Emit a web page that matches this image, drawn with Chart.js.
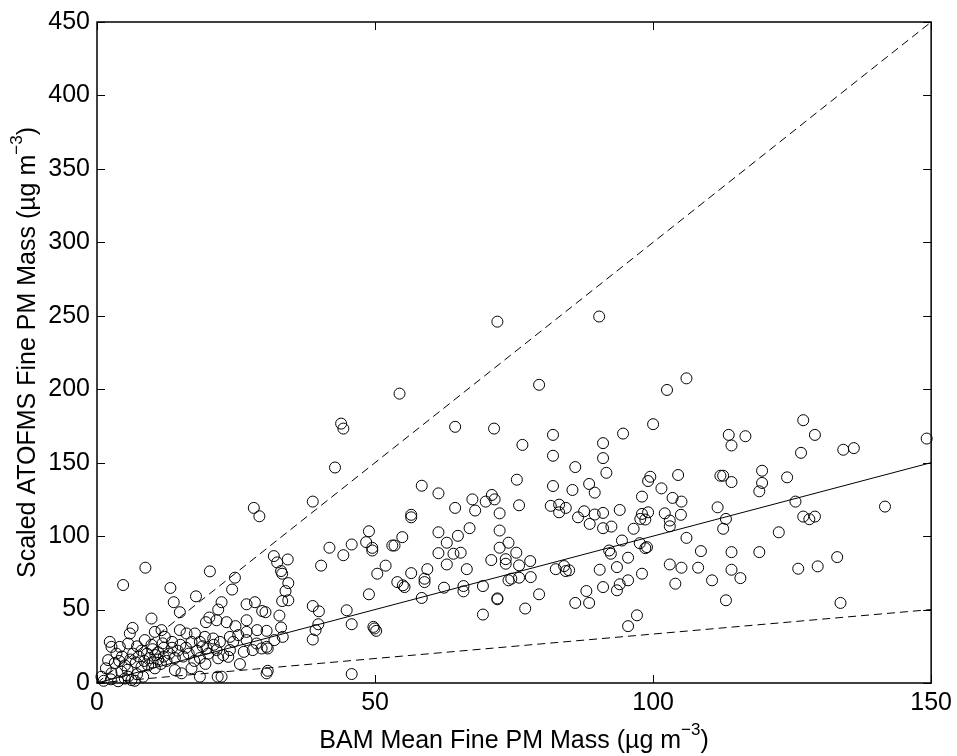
<!DOCTYPE html>
<html lang="en">
<head>
  <meta charset="UTF-8" />
  <title>BAM vs ATOFMS Fine PM Mass</title>
  <script src="https://cdn.jsdelivr.net/npm/chart.js"></script>
  <style>
    html, body { margin: 0; padding: 0; background: #fff; }
    #wrap { width: 957px; height: 756px; }
  </style>
</head>
<body>
  <div id="wrap"><canvas id="pmChart"></canvas></div>

  <script>
    // BAM mean fine PM mass (x) and scaled ATOFMS fine PM mass (y)
    const bamMass = [
      72,90.3,54.4,79.5,43.9,44.3,64.4,71.4,42.8,38.8,82,76.5,82,86,75.5,58.4,82,88.5,89.5,85.5,
      61.4,67.5,71,71.5,69.9,68,64.4,72.4,75.9,56.5,56.5,81.6,83.1,83.1,84.3,86.5,87.6,89.5,88.6,48.9,
      48.4,49.5,49.5,54.9,53.1,53.5,41.8,45.8,44.3,40.3,50.4,51.9,61.4,64.9,67,72.4,62.9,74,61.4,64.1,
      65.4,72.4,75.4,62.9,70.9,73.5,73.5,75.9,77.9,66.5,59.4,56.5,58.9,58.9,54,55,55.3,74,74.5,75.9,
      78,82.5,84,84.3,84.9,48.9,58.4,62.4,65.9,65.9,69.4,72,72,79.5,88,86,88.5,69.4,77,38.8,
      39.9,44.9,39.8,39.3,38.8,45.8,49.9,50.2,49.7,45.8,
      106,102.5,100,94.6,91,91,91.6,113.6,116.6,114.1,127,129.1,126.6,134.2,136.1,149.2,99.5,99.1,104.5,101.5,
      98,103.5,105.1,112.1,112.6,114.1,119.6,119.6,119.1,124.1,125.6,141.7,127,128.1,129.1,111.6,113.1,112.6,122.6,94,
      91,91,92.5,96.5,97.7,98,99.1,98.6,102.1,103,103,105,94.4,97.6,98.9,98.6,106,92.1,92.4,95.5,
      90.4,93.5,98,103,105.1,108.6,108.1,114.1,114.1,115.7,119.1,110.6,104,95.5,94,93.5,91,113.1,126.1,129.6,
      133.1,133.7,97.1,95.5,
      28.2,29.2,8.7,4.7,20.3,24.8,24.3,31.8,32.4,34.3,33.1,33.3,34.4,33.9,33.3,34.4,13.2,13.8,14.9,17.8,
      22.4,21.8,20.2,19.6,26.9,28.4,29.7,30.3,32.8,33.1,26.9,9.8,6.4,5.9,23.3,24.9,25.4,2.3,2.6,4.1,
      30.5,28.8,30.7,26.4,25.7,30.7,30.5,18.5,21.7,22.4,8.3,1.6,
      5.6,10.4,11.6,12.2,8.6,14.9,16.1,17.6,18.5,2,3.2,2.6,4.4,0.8,5.6,10.4,14,15.2,
      7.5,8,8.5,9,9.2,9.5,10,10,10.5,11,11,11.5,12,12,12.5,13,8,7,6.5,6,
      5,4.5,5.5,3.5,4,9.8,11.8,7.2,13.5,14,
      21.5,26.9,19.4,20.9,22.1,23.9,24.5,26.9,28.7,30.5,31.9,33.4,19.7,21.5,22.7,23.9,28,29.6,21.8,23.6,
      13.5,14.5,15,15.5,16,16.5,17,17.5,18,18.5,19,20,19.5,21,17,
      1.2,2.5,3.8,5,6.2,7.2,6.8
    ];
    const atofmsMass = [
      246,249.5,197,203,176.6,173.2,174.4,173.2,146.7,123.5,168.9,162.1,154.7,147,138.4,134.3,134.1,135.5,129.6,131.4,
      129.1,125,128,125,123.5,117.4,119.2,115.5,121,114.5,112.8,120.6,121.4,116.2,119.2,112.8,116.9,114.7,108.3,103.3,
      95.9,90.2,92,99.3,93.6,93.6,92.1,94.3,87,79.9,74.4,79.9,102.6,100.2,105.4,103.8,95.5,95.5,88.4,88,
      88.7,92.1,88.7,80.7,83.7,84.3,81.2,80.1,83,77.5,77.5,74.8,71,68.7,68.7,66.5,65.3,69.9,71,71.7,
      72.1,77.5,79.6,76.2,76.7,60.4,57.9,64.9,66,62.4,66,57,57.6,60.4,62.6,54.5,54.5,46.6,50.7,52.4,
      48.8,49.5,40,36,29.6,40,37.1,35.5,38.2,6.1,
      207.4,199.5,176.2,169.8,163.3,153.1,143.1,168.9,168,161.7,178.9,168.9,156.7,158.8,159.9,166.4,140.4,137.5,141.6,132.5,
      126.9,126,123.5,141.1,141.1,136.8,144.5,136.2,130.5,140,123.5,120.1,113.3,111.5,113.3,119.6,111.7,105,102.6,117.8,
      115.8,105.4,106.5,105,111.7,115.1,116.2,111.3,115.5,110.6,106.7,114.5,97,95.2,92.5,91.8,98.8,90.2,88,85.3,
      77.1,78.9,74.4,80.7,78.5,89.8,78.5,89.1,77.1,71.4,89.1,69.9,67.6,69.9,67.2,63.1,65.3,56.3,77.8,79.4,
      85.7,54.5,46.1,38.7,
      119.2,113.5,78.5,66.7,76,71.7,63.6,86.4,82.1,84.1,76.2,74.4,68,62.6,55.8,56.3,64.7,55,48.2,59,
      55,50,44.6,41.4,53.6,55,49,48.2,45.9,37.8,42.7,43.9,37.5,33.7,41.4,38.7,32.6,28,24.6,24.6,
      35.5,36,23.5,21.2,12.9,8.3,6.6,4.3,4.3,4.3,4.3,10,
      26.9,34.8,36,31.4,29.2,36,33.7,33.7,28,15.6,13.6,6.6,7.7,4.3,4.3,10,8.8,6.6,
      18,22,15,20,12,17,23,14,19,16,21,13,18,24,15,20,11,14,20,16,
      12,18,9,20,15,26,27,25,24,17,
      42.7,34.8,31.4,30.3,28,31.4,28,29.2,26.9,24.6,29.2,31.4,23.5,22.4,19,22.4,22.4,23.5,16.8,17.8,
      28,22,26,18,24,20,28,15,22,17,25,20,13,26,10,
      1.5,2.5,1.2,3,2,6,1.5
    ];

    // reference lines 1:1, 3:1 and 1:3 (end points)
    const lineX = [0, 150];
    const oneToOne = [0, 150];
    const threeToOne = [0, 450];
    const oneToThree = [0, 50];

    const xTicks = [0, 50, 100, 150];
    const yTicks = [0, 50, 100, 150, 200, 250, 300, 350, 400, 450];

    const FONT = '"Liberation Sans", Arial, Helvetica, sans-serif';
    const FS = 25;

    const toPts = (xs, ys) => xs.map((v, i) => ({ x: v, y: ys[i] }));

    // matlab style box with inward ticks, and the axis titles with superscripts
    const boxPlugin = {
      id: 'box',
      afterDraw(chart) {
        const { ctx, chartArea: a, scales: { x, y } } = chart;
        ctx.save();
        ctx.strokeStyle = '#000';
        ctx.lineWidth = 1;
        ctx.beginPath();
        xTicks.forEach(v => {
          const px = Math.round(x.getPixelForValue(v)) + 0.5;
          ctx.moveTo(px, a.bottom); ctx.lineTo(px, a.bottom - 8);
          ctx.moveTo(px, a.top); ctx.lineTo(px, a.top + 8);
        });
        yTicks.forEach(v => {
          const py = Math.round(y.getPixelForValue(v)) + 0.5;
          ctx.moveTo(a.left, py); ctx.lineTo(a.left + 8, py);
          ctx.moveTo(a.right, py); ctx.lineTo(a.right - 8, py);
        });
        ctx.stroke();
        ctx.lineWidth = 1.5;
        ctx.strokeRect(a.left, a.top, a.right - a.left, a.bottom - a.top);

        const label = (main, sup, tail, cx, cy, rot) => {
          ctx.save();
          ctx.translate(cx, cy);
          ctx.rotate(rot);
          ctx.fillStyle = '#000';
          ctx.textBaseline = 'middle';
          ctx.font = FS + 'px ' + FONT;
          const w1 = ctx.measureText(main).width;
          const w3 = ctx.measureText(tail).width;
          ctx.font = '17px ' + FONT;
          const w2 = ctx.measureText(sup).width;
          let sx = -(w1 + w2 + w3) / 2;
          ctx.font = FS + 'px ' + FONT;
          ctx.fillText(main, sx, 0);
          sx += w1;
          ctx.font = '17px ' + FONT;
          ctx.fillText(sup, sx, -11);
          sx += w2;
          ctx.font = FS + 'px ' + FONT;
          ctx.fillText(tail, sx, 0);
          ctx.restore();
        };
        label('BAM Mean Fine PM Mass (\u00b5g m', '\u22123', ')', (a.left + a.right) / 2, 741, 0);
        label('Scaled ATOFMS Fine PM Mass (\u00b5g m', '\u22123', ')', 28, (a.top + a.bottom) / 2, -Math.PI / 2);
        ctx.restore();
      }
    };

    const refLine = (ys, dash) => ({
      type: 'line',
      data: toPts(lineX, ys),
      borderColor: '#000',
      borderWidth: 1,
      borderDash: dash,
      pointRadius: 0,
      fill: false
    });

    new Chart(document.getElementById('pmChart'), {
      type: 'scatter',
      data: {
        datasets: [
          {
            label: 'samples',
            data: toPts(bamMass, atofmsMass),
            pointStyle: 'circle',
            pointRadius: 5.5,
            pointBorderWidth: 1,
            pointBorderColor: '#000',
            pointBackgroundColor: 'rgba(0,0,0,0)',
            clip: false
          },
          refLine(oneToOne, []),
          refLine(threeToOne, [8, 5]),
          refLine(oneToThree, [8, 5])
        ]
      },
      options: {
        responsive: true,
        maintainAspectRatio: false,
        animation: false,
        events: [],
        layout: { padding: { left: 0, top: 18, right: 24, bottom: 0 } },
        plugins: { legend: { display: false }, tooltip: { enabled: false } },
        scales: {
          x: {
            type: 'linear', min: 0, max: 150,
            afterFit: s => { s.height = 73; },
            afterBuildTicks: s => { s.ticks = xTicks.map(v => ({ value: v })); },
            grid: { display: false, drawTicks: false },
            border: { display: false },
            ticks: { color: '#000', padding: 5, font: { size: FS, family: FONT }, maxRotation: 0 }
          },
          y: {
            type: 'linear', min: 0, max: 450,
            afterFit: s => { s.width = 97; },
            afterBuildTicks: s => { s.ticks = yTicks.map(v => ({ value: v })); },
            grid: { display: false, drawTicks: false },
            border: { display: false },
            ticks: { color: '#000', padding: 7, font: { size: FS, family: FONT } }
          }
        }
      },
      plugins: [boxPlugin]
    });
  </script>
</body>
</html>
